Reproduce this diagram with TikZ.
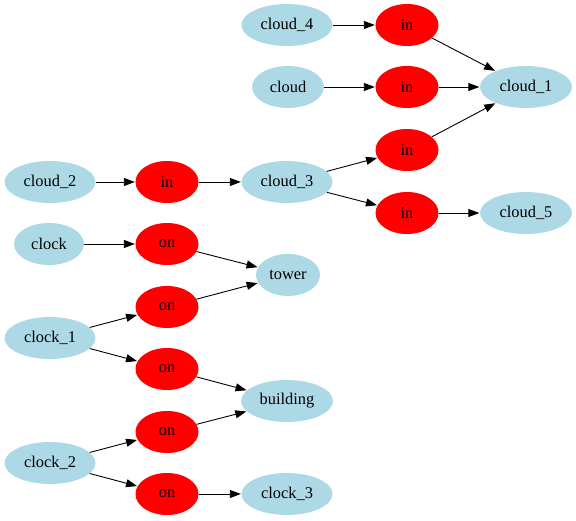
\documentclass[tikz,border=0pt]{standalone}
\usepackage{fontspec}
\setmainfont{Liberation Serif}
\usetikzlibrary{shapes.geometric,arrows.meta}
\definecolor{lblue}{RGB}{173,216,230}
\tikzset{
  ent/.style={ellipse, fill=lblue, draw=none, minimum height=42pt, inner sep=0pt, font=\fontsize{16.4}{18}\selectfont},
  rel/.style={ellipse, fill=red, draw=none, minimum width=63pt, minimum height=42pt, inner sep=0pt, font=\fontsize{16.4}{18}\selectfont},
  conn/.style={draw=black, line width=0.9pt, -{Triangle[length=11pt,width=8pt]}, shorten >=0.5pt},
}
\begin{document}
\begin{tikzpicture}[x=1pt,y=-1pt]
\useasboundingbox (0,0) rectangle (576,521);
% entities
\node[ent, minimum width=91pt] (cloud4) at (287,25) {cloud\_4};
\node[ent, minimum width=72pt] (cloud) at (288,87) {cloud};
\node[ent, minimum width=92pt] (cloud1) at (526,87) {cloud\_1};
\node[ent, minimum width=91pt] (cloud2) at (50,182) {cloud\_2};
\node[ent, minimum width=91pt] (cloud3) at (287,182) {cloud\_3};
\node[ent, minimum width=92pt] (cloud5) at (526,213) {cloud\_5};
\node[ent, minimum width=70pt] (clock) at (49,244) {clock};
\node[ent, minimum width=64pt] (tower) at (288,275) {tower};
\node[ent, minimum width=91pt] (clock1) at (50,338) {clock\_1};
\node[ent, minimum width=92pt] (building) at (287,401) {building};
\node[ent, minimum width=91pt] (clock2) at (50,463) {clock\_2};
\node[ent, minimum width=91pt] (clock3) at (287,494) {clock\_3};
% relations
\node[rel] (in1) at (407,25) {in};
\node[rel] (in2) at (407,87) {in};
\node[rel] (in3) at (407,150) {in};
\node[rel] (in4) at (167,182) {in};
\node[rel] (in5) at (407,213) {in};
\node[rel] (on1) at (167,244) {on};
\node[rel] (on2) at (167,307) {on};
\node[rel] (on3) at (167,369) {on};
\node[rel] (on4) at (167,432) {on};
\node[rel] (on5) at (167,494) {on};
% edges
\draw[conn] (cloud4) -- (in1);
\draw[conn] (in1) -- (cloud1);
\draw[conn] (cloud) -- (in2);
\draw[conn] (in2) -- (cloud1);
\draw[conn] (cloud2) -- (in4);
\draw[conn] (in4) -- (cloud3);
\draw[conn] (cloud3) -- (in3);
\draw[conn] (in3) -- (cloud1);
\draw[conn] (cloud3) -- (in5);
\draw[conn] (in5) -- (cloud5);
\draw[conn] (clock) -- (on1);
\draw[conn] (on1) -- (tower);
\draw[conn] (clock1) -- (on2);
\draw[conn] (on2) -- (tower);
\draw[conn] (clock1) -- (on3);
\draw[conn] (on3) -- (building);
\draw[conn] (clock2) -- (on4);
\draw[conn] (on4) -- (building);
\draw[conn] (clock2) -- (on5);
\draw[conn] (on5) -- (clock3);
\end{tikzpicture}
\end{document}
